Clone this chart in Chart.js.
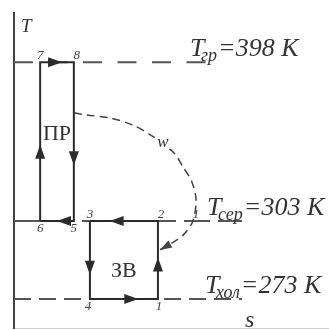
<!DOCTYPE html>
<html>
<head>
<meta charset="utf-8">
<script src="https://cdn.jsdelivr.net/npm/chart.js@4.4.1/dist/chart.umd.min.js"></script>
<style>
  html, body { margin: 0; padding: 0; background: #fff; }
  canvas { display: block; }
</style>
</head>
<body>
<canvas id="tsChart" width="329" height="330"></canvas>
<script>
// T-s diagram, schematic: both s and T on a 0..10 scale
const levelNames = ['гр', 'сер', 'хол'];
const levelTemps = [398, 303, 273];
const levelT = [8.44, 3.40, 0.92];
const levelEnd = [6.16, 7.24, 7.24];

// ПР cycle: 6 -> 7 -> 8 -> 5 -> 6
const prNames = ['6', '7', '8', '5'];
const prS = [0.83, 0.83, 1.90, 1.90, 0.83];
const prT = [3.40, 8.44, 8.44, 3.40, 3.40];

// ЗВ cycle: 3 -> 4 -> 1 -> 2 -> 3
const zvNames = ['3', '4', '1', '2'];
const zvS = [2.41, 2.41, 4.57, 4.57, 2.41];
const zvT = [3.40, 0.92, 0.92, 3.40, 3.40];

// work w passed from ПР to ЗВ (dashed curve)
const wS = [1.90, 2.32, 3.05, 3.78, 4.38, 5.05, 5.37, 5.65, 5.78, 5.68, 5.40, 5.02, 4.63];
const wT = [6.83, 6.76, 6.67, 6.44, 6.10, 5.59, 5.11, 4.63, 4.06, 3.40, 2.98, 2.70, 2.48];

const toPoints = (s, t) => s.map((v, i) => ({ x: v, y: t[i] }));

function arrow(ctx, x, y, dx, dy, color, len = 14, half = 5) {
    const d = Math.hypot(dx, dy) || 1;
    const ux = dx / d, uy = dy / d;
    ctx.fillStyle = color;
    ctx.beginPath();
    ctx.moveTo(x, y);
    ctx.lineTo(x - ux * len - uy * half, y - uy * len + ux * half);
    ctx.lineTo(x - ux * len + uy * half, y - uy * len - ux * half);
    ctx.closePath();
    ctx.fill();
}

const serif = '"Liberation Serif", "DejaVu Serif", serif';

const diagramPlugin = {
    id: 'diagram',
    afterDatasetsDraw(chart) {
        const { ctx, chartArea, scales: { x, y } } = chart;
        ctx.save();

        // arrows along cycle edges and at the end of w
        chart.data.datasets.forEach((ds, di) => {
            const pts = chart.getDatasetMeta(di).data;
            if (ds.arrows) {
                ds.arrows.forEach((t, i) => {
                    const a = pts[i], b = pts[i + 1];
                    arrow(ctx, a.x + (b.x - a.x) * t, a.y + (b.y - a.y) * t, b.x - a.x, b.y - a.y, ds.borderColor);
                });
            }
            if (ds.endArrow) {
                const a = pts[pts.length - 2], b = pts[pts.length - 1];
                arrow(ctx, b.x, b.y, b.x - a.x, b.y - a.y, ds.borderColor, 12, 4);
            }
        });

        ctx.fillStyle = '#333';
        ctx.textBaseline = 'alphabetic';

        // level labels T_xx = ... K
        const labelAt = [5.59, 6.13, 6.06];
        levelNames.forEach((nm, i) => {
            const py = y.getPixelForValue(levelT[i]);
            let px = x.getPixelForValue(labelAt[i]);
            ctx.textAlign = 'left';
            ctx.font = 'italic 26px ' + serif;
            ctx.fillText('T', px, py - 6);
            ctx.font = 'italic 18px ' + serif;
            ctx.fillText(nm, px + 11, py - 1);
            const sw = ctx.measureText(nm).width;
            ctx.font = 'italic 26px ' + serif;
            ctx.fillText('=' + levelTemps[i] + ' К', px + 11 + sw + 1, py - 6);
        });

        // state point numbers
        ctx.font = 'italic 13px ' + serif;
        ctx.fillStyle = '#444';
        ctx.textAlign = 'center';
        const numberAt = (names, s, t, place, shift) => {
            names.forEach((nm, i) => {
                const px = x.getPixelForValue(s[i]) + shift[i];
                const py = y.getPixelForValue(t[i]);
                ctx.fillText(nm, px, place[i] === 'above' ? py - 3 : py + 11);
            });
        };
        numberAt(prNames, prS, prT, ['below', 'above', 'above', 'below'], [0, 0, 3, 0]);
        numberAt(zvNames, zvS, zvT, ['above', 'below', 'below', 'above'], [0, -2, 1, 3]);
        const k = wT.indexOf(levelT[1]);
        ctx.fillText('1', x.getPixelForValue(wS[k]) + 3, y.getPixelForValue(wT[k]) - 3);

        // w label over the curve
        ctx.font = 'italic 17px ' + serif;
        const wx = x.getPixelForValue(4.73), wy = y.getPixelForValue(5.75);
        ctx.fillStyle = '#fff';
        ctx.fillRect(wx - 7, wy - 10, 14, 12);
        ctx.fillStyle = '#333';
        ctx.fillText('w', wx, wy);

        // cycle names
        ctx.font = '22px ' + serif;
        ctx.textBaseline = 'middle';
        ctx.fillText('ПР', x.getPixelForValue((prS[0] + prS[2]) / 2), y.getPixelForValue(6.16));
        ctx.fillText('ЗВ', x.getPixelForValue((zvS[0] + zvS[2]) / 2), y.getPixelForValue(1.81));

        // axis names
        ctx.textBaseline = 'alphabetic';
        ctx.textAlign = 'left';
        ctx.font = 'italic 19px ' + serif;
        ctx.fillText('T', chartArea.left + 7, chartArea.top + 19);
        ctx.font = 'italic 24px ' + serif;
        ctx.fillText('s', x.getPixelForValue(7.33), chartArea.bottom - 1);

        ctx.restore();
    }
};

const levelDash = [[19, 15.5], [26, 8], [17, 8]];
const levelSets = levelNames.map((nm, i) => ({
    label: 'T ' + nm,
    data: toPoints([0, levelEnd[i]], [levelT[i], levelT[i]]),
    showLine: true,
    borderColor: '#555',
    borderWidth: 2,
    borderDash: levelDash[i],
    pointRadius: 0
}));

const ctx = document.getElementById('tsChart').getContext('2d');
const tsChart = new Chart(ctx, {
    type: 'scatter',
    data: {
        datasets: [
            {
                label: 'ПР',
                data: toPoints(prS, prT),
                showLine: true,
                borderColor: '#2b2b2b',
                borderWidth: 2,
                pointRadius: 0,
                arrows: [0.48, 0.65, 0.65, 0.5]
            },
            {
                label: 'ЗВ',
                data: toPoints(zvS, zvT),
                showLine: true,
                borderColor: '#2b2b2b',
                borderWidth: 2,
                pointRadius: 0,
                arrows: [0.69, 0.71, 0.53, 0.71]
            },
            {
                label: 'w',
                data: toPoints(wS, wT),
                showLine: true,
                borderColor: '#444',
                borderWidth: 1.5,
                borderDash: [8, 5],
                tension: 0.3,
                pointRadius: 0,
                endArrow: true
            },
            ...levelSets
        ]
    },
    options: {
        responsive: false,
        animation: false,
        layout: { padding: { left: 14, top: 13, right: 0, bottom: 2 } },
        scales: {
            x: {
                min: 0, max: 10,
                grid: { display: false, drawTicks: false, tickLength: 0 },
                ticks: { display: false },
                border: { display: true, color: '#cfcfcf', width: 1 }
            },
            y: {
                min: 0, max: 10,
                grid: { display: false, drawTicks: false, tickLength: 0 },
                ticks: { display: false },
                border: { display: true, color: '#444', width: 2 }
            }
        },
        plugins: {
            legend: { display: false },
            tooltip: { enabled: false }
        }
    },
    plugins: [diagramPlugin]
});
</script>
</body>
</html>
